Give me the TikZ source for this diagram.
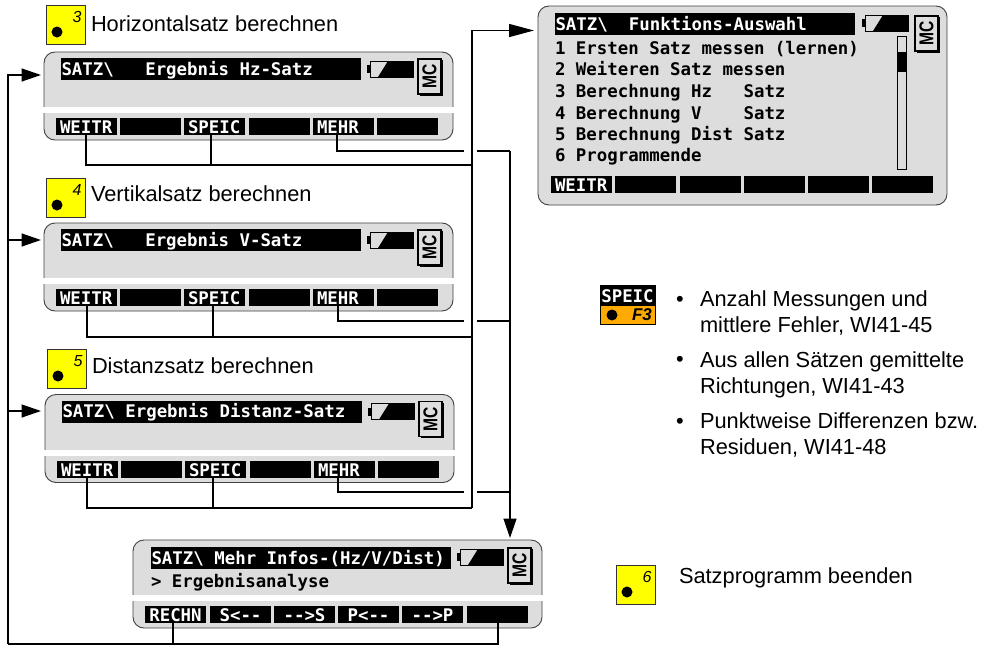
\documentclass[tikz,border=0pt]{standalone}
\usepackage{fontspec}
\setmainfont{Liberation Sans}
\setmonofont{DejaVu Sans Mono}
\usetikzlibrary{arrows.meta,calc}
\definecolor{screengray}{RGB}{221,221,221}
\definecolor{stepyellow}{RGB}{255,255,0}
\definecolor{fkeyorange}{RGB}{255,170,0}
\newcommand{\scrfont}{\ttfamily\bfseries\fontsize{17.4}{17.4}\selectfont}

\begin{document}
\begin{tikzpicture}[
  x=1pt, y=-1pt,
  every node/.style={inner sep=0pt, outer sep=0pt},
  screenbox/.style={draw=black!75, line width=0.9pt, fill=screengray, rounded corners=11pt,
                    anchor=north west, minimum width=409pt},
  band/.style={fill=white, anchor=north west, minimum width=411pt, minimum height=6pt},
  titlebar/.style={fill=black, text=white, anchor=north west, minimum height=22pt,
                   text height=16pt, text depth=4pt,
                   text width=299pt, inner xsep=0.5pt, align=flush left, font=\scrfont},
  softkey/.style={fill=black, text=white, anchor=north west, minimum height=17pt,
                  text height=15.5pt, text depth=1.5pt,
                  text width=53pt, inner xsep=4pt, align=flush left, font=\scrfont},
  rowtext/.style={anchor=base west, font=\scrfont},
  stepkey/.style={draw=black!80, line width=0.8pt, fill=stepyellow, anchor=north west,
                  minimum width=39.5pt, minimum height=39.5pt},
  stepdot/.style={circle, fill=black, minimum size=11pt},
  stepnum/.style={font=\fontsize{16}{16}\selectfont\itshape},
  caption/.style={anchor=base west, font=\fontsize{21.8}{21.8}\selectfont},
  note/.style={anchor=base west, align=flush left, font=\fontsize{21.8}{26}\selectfont},
  conn/.style={line width=1.4pt},
  arr/.style={conn, -{Triangle[length=19.5pt,width=13pt]}},
  longarr/.style={conn, -{Triangle[length=25pt,width=13pt]}},
  battery/.pic={
    \fill (0,4) rectangle (3,12);
    \draw[line width=0.8pt, fill=screengray] (3,0) rectangle (46,16);
    \fill (21,0) -- (46,0) -- (46,16) -- (11,16) -- cycle;
  },
  mcbadge/.pic={
    \draw[line width=1.1pt, fill=screengray] (0,0) rectangle (23,35);
    \draw[line width=1.3pt] (23,2) -- (24,2) -- (24,36) -- (2,36);
    \node[rotate=90, xscale=0.78, transform shape, font=\fontsize{20}{20}\selectfont\bfseries] at (11.5,17.5) {MC};
  }
]
\useasboundingbox (0,0) rectangle (981,645);

% the three result screens
\foreach \name/\dx/\yy/\title in {hz/0/52/SATZ\textbackslash~~~Ergebnis Hz-Satz,
    vert/0/223/SATZ\textbackslash~~~Ergebnis V-Satz,
    dist/1/394.5/SATZ\textbackslash~Ergebnis Distanz-Satz}{
  \node[screenbox, minimum height=88pt] (\name Screen) at (44+\dx,\yy) {};
  \node[band] (\name Band) at (43+\dx,\yy+55) {};
  \node[titlebar] (\name Title) at (61+\dx,\yy+6) {\title};
  \pic at (367+\dx,\yy+9) {battery};
  \pic at (418+\dx,\yy+7) {mcbadge};
  \foreach \kx/\klab/\kname in {56/WEITR/Weitr,120//KeyB,184/SPEIC/Speic,249//KeyD,313/MEHR/Mehr,377//KeyF}{
    \node[softkey] (\name\kname) at (\kx+\dx,\yy+66) {\klab};
  }
}

% the selection screen
\node[screenbox, minimum height=199pt] (menuScreen) at (538,6) {};
\node[titlebar] (menuTitle) at (555,13) {SATZ\textbackslash~~Funktions-Auswahl};
\pic at (862,15) {battery};
\pic at (915,16) {mcbadge};
\draw[line width=0.8pt] (897,36) rectangle (906,169);
\fill (897,52) rectangle (906,72);
\node[rowtext] (menuRowA) at (555,54) {1 Ersten Satz messen (lernen)};
\node[rowtext] (menuRowB) at (555,75) {2 Weiteren Satz messen};
\node[rowtext] (menuRowC) at (555,97) {3 Berechnung Hz~~~Satz};
\node[rowtext] (menuRowD) at (555,119) {4 Berechnung V~~~~Satz};
\node[rowtext] (menuRowE) at (555,140) {5 Berechnung Dist Satz};
\node[rowtext] (menuRowF) at (555,161) {6 Programmende};
\foreach \kx/\klab/\kname in {551/WEITR/A,615//B,680//C,744//D,808//E,872//F}{
  \node[softkey] (menuKey\kname) at (\kx,176) {\klab};
}

% the screen with further information
\node[screenbox, minimum height=88pt] (infoScreen) at (133,540) {};
\node[band] (infoBand) at (132,595) {};
\node[titlebar] (infoTitle) at (151,547) {SATZ\textbackslash~Mehr Infos-(Hz/V/Dist)};
\pic at (457,549) {battery};
\pic at (508,548) {mcbadge};
\node[rowtext] (infoRow) at (151,587) {> Ergebnisanalyse};
\foreach \kx/\klab/\kname in {145/RECHN/A,210/S<--/B,274/-->S/C,338/P<--/D,402/-->P/E,467//F}{
  \node[softkey, align=center] (infoKey\kname) at (\kx,606) {\klab};
}

% yellow keys with captions
\foreach \name/\sx/\sy/\num in {stepA/46/5/3,stepB/46/178/4,stepC/47/349/5,stepD/616/565/6}{
  \node[stepkey] (\name) at (\sx,\sy) {};
  \node[stepdot] (\name Dot) at (\sx+11,\sy+27) {};
  \node[stepnum] (\name Num) at (\sx+31,\sy+12) {\num};
}
\node[caption] (capA) at (91,31) {Horizontalsatz berechnen};
\node[caption] (capB) at (91,201) {Vertikalsatz berechnen};
\node[caption] (capC) at (92,373) {Distanzsatz berechnen};
\node[caption] (capD) at (679,583) {Satzprogramm beenden};

% F3 key and notes
\node[fill=fkeyorange, draw=black, line width=1pt, anchor=north west, minimum width=55pt,
      minimum height=39pt] (fkey) at (600,285.5) {};
\node[fill=black, text=white, anchor=north west, minimum width=55pt, minimum height=20.5pt,
      font=\scrfont] (fkeyLabel) at (600,285.5) {SPEIC};
\node[stepdot] (fkeyDot) at (612,315) {};
\node[font=\fontsize{17}{17}\selectfont\bfseries\itshape] (fkeyNum) at (642,315) {F3};
\foreach \name/\yy in {noteA/306,noteB/366,noteC/428}{
  \node[note] (\name Dot) at (676,\yy) {•};
}
\node[note] (noteA) at (700,332) {Anzahl Messungen und\\mittlere Fehler, WI41-45};
\node[note] (noteB) at (700,393) {Aus allen Sätzen gemittelte\\Richtungen, WI41-43};
\node[note] (noteC) at (700,454) {Punktweise Differenzen bzw.\\Residuen, WI41-48};

% connectors
\coordinate (menuIn) at (534,30.5);
\coordinate (infoIn) at (510,538);
\coordinate (busLow) at (472,508);
\coordinate (backCorner) at (8,644);
\foreach \name/\yw/\ym/\xw/\xs/\xm in {hz/165/151/-0.5/-3.5/-6.5,vert/337/321/0.5/-1.5/-5.5,dist/508/492/-0.5/-2.5/-6.5}{
  \coordinate (\name Bus) at (472,\yw);
  \coordinate (\name GapL) at (464,\ym);
  \coordinate (\name GapR) at (477,\ym);
  \coordinate (\name Drop) at (510,\ym);
  \draw[conn] ([xshift=\xw pt]\name Weitr.south) |- (\name Bus);
  \draw[conn] ([xshift=\xs pt]\name Speic.south) |- (\name Bus);
  \draw[conn] ([xshift=\xm pt]\name Mehr.south) |- (\name GapL);
  \draw[conn] (\name GapR) -- (\name Drop);
}
\draw[longarr] (busLow) |- (menuIn);
\draw[arr] (hzDrop) -- (infoIn);
\draw[conn] ([xshift=-2.5pt]infoKeyA.south) |- (backCorner);
\draw[conn] ([xshift=0.5pt]infoKeyF.south) |- (backCorner);
\coordinate (hzIn) at (41,75);
\coordinate (vertIn) at (41,240);
\coordinate (distIn) at (41,411);
\draw[arr] (backCorner) |- (hzIn);
\draw[arr] (backCorner |- vertIn) -- (vertIn);
\draw[arr] (backCorner |- distIn) -- (distIn);
\end{tikzpicture}
\end{document}
